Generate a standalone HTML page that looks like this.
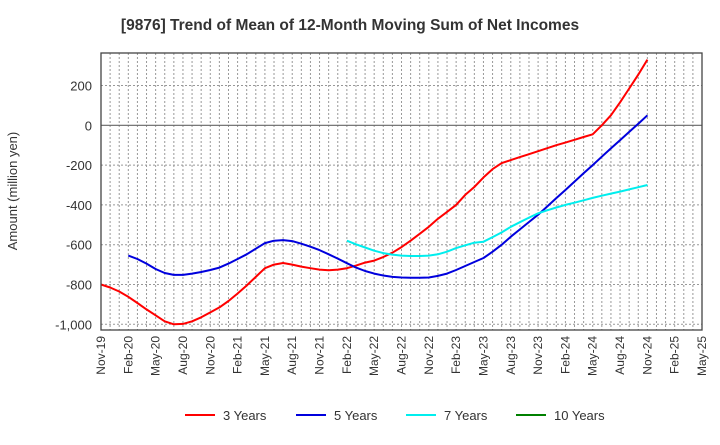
<!DOCTYPE html>
<html><head><meta charset="utf-8"><style>
body{margin:0;background:#fff;font-family:"Liberation Sans",sans-serif}
</style></head><body>
<svg width="720" height="440" xmlns="http://www.w3.org/2000/svg">
<text x="350" y="30" text-anchor="middle" font-size="15.5" font-weight="bold" fill="#333">[9876]  Trend of Mean of 12-Month Moving Sum of Net Incomes</text>
<text transform="translate(17,191) rotate(-90)" text-anchor="middle" font-size="13" fill="#333">Amount (million yen)</text>
<g id="grid"></g>
<g id="series"></g>
<rect x="101" y="53" width="601" height="277" fill="none" stroke="#444" stroke-width="1.3"/>
<g id="axes"></g>
<g id="legend"></g>
</svg>
<script>
const xLabels=["Nov-19","Feb-20","May-20","Aug-20","Nov-20","Feb-21","May-21","Aug-21","Nov-21","Feb-22","May-22","Aug-22","Nov-22","Feb-23","May-23","Aug-23","Nov-23","Feb-24","May-24","Aug-24","Nov-24","Feb-25","May-25"];
const yTicks=[200,0,-200,-400,-600,-800,-1000];
const yTickLabels=["200","0","-200","-400","-600","-800","-1,000"];
const red=[-800,-815,-835,-862,-893,-925,-955,-985,-1000,-998,-985,-965,-940,-915,-883,-845,-805,-762,-718,-700,-692,-700,-710,-718,-725,-728,-725,-718,-705,-690,-680,-662,-640,-612,-580,-545,-510,-470,-435,-400,-350,-310,-262,-220,-190,-175,-160,-145,-130,-115,-100,-87,-73,-59,-45,0,50,115,185,255,330];
const blue=[null,null,null,-655,-672,-695,-722,-742,-752,-752,-745,-737,-727,-715,-695,-672,-648,-620,-592,-580,-577,-582,-595,-610,-627,-648,-670,-693,-715,-732,-745,-755,-762,-765,-766,-766,-765,-757,-745,-727,-707,-687,-667,-635,-600,-560,-523,-486,-449,-408,-366,-325,-283,-241,-200,-158,-116,-75,-33,8,50];
const cyan=[null,null,null,null,null,null,null,null,null,null,null,null,null,null,null,null,null,null,null,null,null,null,null,null,null,null,null,-580,-598,-614,-630,-642,-650,-655,-657,-657,-655,-648,-635,-617,-603,-590,-585,-562,-538,-510,-487,-464,-442,-427,-413,-400,-389,-377,-365,-354,-343,-333,-322,-311,-300];
const green=[];
const NS="http://www.w3.org/2000/svg";
const X0=101,X1=702,Y0=53,Y1=330,MONTHS=66;
const xs=m=>X0+(X1-X0)*m/MONTHS;
const ys=v=>125.3-(v)*(199/1000);
const grid=document.getElementById('grid'),axes=document.getElementById('axes'),ser=document.getElementById('series'),leg=document.getElementById('legend');
function mk(t,a,p){const e=document.createElementNS(NS,t);for(const k in a)e.setAttribute(k,a[k]);p.appendChild(e);return e;}
for(let m=1;m<MONTHS;m++){const l=mk('line',{x1:xs(m),x2:xs(m),y1:Y0,y2:Y1,stroke:'#999','stroke-dasharray':'2,2','stroke-width':1},grid);

}
for(let v=200;v>=-1000;v-=200){if(v===0)continue;const l=mk('line',{x1:X0,x2:X1,y1:ys(v),y2:ys(v),stroke:'#999','stroke-dasharray':'2,2','stroke-width':1},grid);

}
const z=mk('line',{x1:X0,x2:X1,y1:ys(0),y2:ys(0),stroke:'#666','stroke-width':1.2},grid);


yTicks.forEach((v,i)=>{const t=mk('text',{x:92,y:ys(v)+5,'text-anchor':'end','font-size':13,fill:'#333'},axes);t.textContent=yTickLabels[i];

});
xLabels.forEach((s,i)=>{const x=xs(i*3);const t=mk('text',{transform:`translate(${x+4},336) rotate(-90)`,'text-anchor':'end','font-size':12,fill:'#333'},axes);t.textContent=s;

});
function line(data,color,name){let d='';let pen=false;data.forEach((v,m)=>{if(v==null){pen=false;return;}d+=(pen?'L':'M')+xs(m).toFixed(1)+','+ys(v).toFixed(1);pen=true;});
if(!d)return;const p=mk('path',{d:d,fill:'none',stroke:color,'stroke-width':2,'stroke-linejoin':'round'},ser);

}
line(red,'#ff0000','line-3-years');line(blue,'#0000dd','line-5-years');line(cyan,'#00eeee','line-7-years');line(green,'#008000','line-10-years');
const L=[["3 Years","#ff0000",185],["5 Years","#0000dd",296],["7 Years","#00eeee",406],["10 Years","#008000",516]];
L.forEach(e=>{const g=mk('g',{},leg);


mk('line',{x1:e[2],x2:e[2]+30,y1:415,y2:415,stroke:e[1],'stroke-width':2},g);const t=mk('text',{x:e[2]+38,y:420,'font-size':13,fill:'#333'},g);t.textContent=e[0];});
</script>
</body></html>
